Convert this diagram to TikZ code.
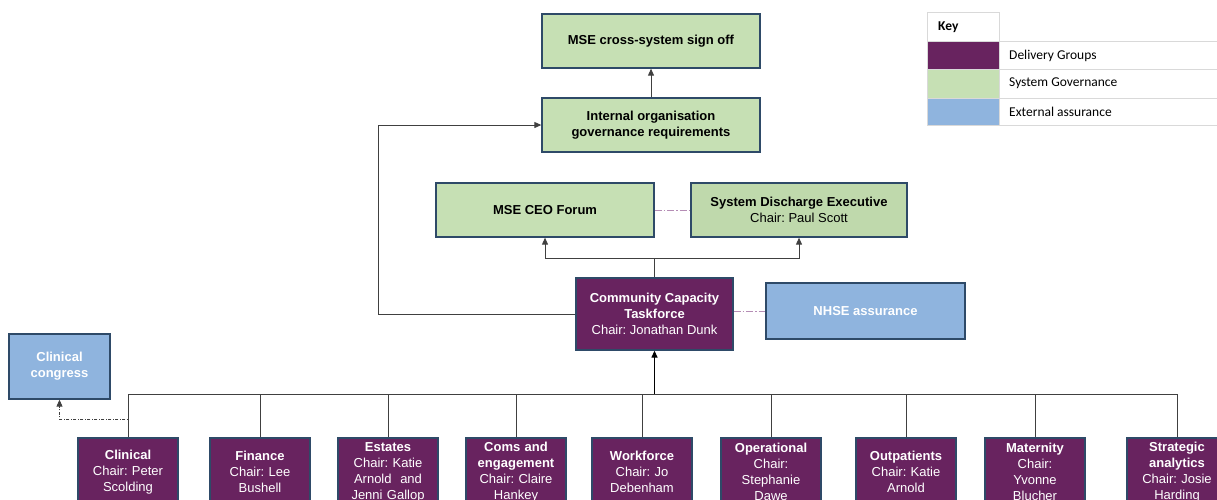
\documentclass[tikz,border=0pt]{standalone}
\usepackage{fontspec}
\setmainfont{Liberation Sans}
\newfontfamily\keyfont{Carlito}
\frenchspacing
\usetikzlibrary{arrows.meta}
\definecolor{purp}{HTML}{68235F}
\definecolor{grn}{HTML}{C6E0B4}
\definecolor{grn2}{HTML}{BFD9AC}
\definecolor{blu}{HTML}{8FB4DE}
\definecolor{bord}{HTML}{2E4A68}
\definecolor{conn}{HTML}{404040}
\definecolor{dashc}{HTML}{B58DB5}
\definecolor{keyline}{HTML}{D9D9D9}
\tikzset{
  box/.style={draw=bord, line width=1.3pt, align=center, inner sep=2pt,
    font=\frenchspacing\fontsize{13}{16}\selectfont},
  govbox/.style={box, fill=grn, text=black},
  delbox/.style={box, fill=purp, text=white},
  extbox/.style={box, fill=blu, text=white},
  grpbox/.style={delbox, minimum width=100pt, minimum height=68pt, text width=96pt},
  conline/.style={draw=conn, line width=0.9pt},
  arr/.style={-{Triangle[length=7pt,width=6pt]}},
  dashlink/.style={draw=dashc, line width=1pt, dash pattern=on 7pt off 2pt on 1.5pt off 2pt},
  keytxt/.style={font=\keyfont\fontsize{13.5}{16}\selectfont, anchor=west, inner sep=0pt},
}
\begin{document}
\begin{tikzpicture}[x=1pt,y=-1pt]
\useasboundingbox (0,0) rectangle (1217,499);
\clip (0,0) rectangle (1217,499);

% Governance boxes
\node[govbox, minimum width=218pt, minimum height=54pt] (sign) at (651,41) {\textbf{MSE cross-system sign off}};
\node[govbox, minimum width=218pt, minimum height=54pt] (intl) at (651,125) {\textbf{Internal organisation}\\\textbf{governance requirements}};
\node[govbox, minimum width=218pt, minimum height=54pt] (ceo) at (545,210) {\textbf{MSE CEO Forum}};
\node[govbox, fill=grn2, minimum width=216pt, minimum height=54pt] (sde) at (799,210) {\textbf{System Discharge Executive}\\Chair: Paul Scott};
\node[delbox, minimum width=157pt, minimum height=72pt] (cct) at (654.5,314) {\textbf{Community Capacity}\\\textbf{Taskforce}\\Chair: Jonathan Dunk};
\node[extbox, minimum width=199pt, minimum height=56pt] (nhse) at (865.5,311) {\textbf{NHSE assurance}};
\node[extbox, minimum width=101pt, minimum height=65pt] (congress) at (59.5,366.5) {\textbf{Clinical}\\\textbf{congress}};

% Delivery groups
\node[grpbox] (g1) at (128,472) {\textbf{Clinical}\\Chair: Peter\\Scolding};
\node[grpbox] (g2) at (260,472) {\textbf{Finance}\\Chair: Lee\\Bushell};
\node[grpbox] (g3) at (388,472) {\textbf{Estates}\\Chair: Katie\\Arnold\ \ and\\Jenni Gallop};
\node[grpbox] (g4) at (516,472) {\textbf{Coms and}\\\textbf{engagement}\\Chair: Claire\\Hankey};
\node[grpbox] (g5) at (642,472) {\textbf{Workforce}\\Chair: Jo\\Debenham};
\node[grpbox] (g6) at (771,472) {\textbf{Operational}\\Chair:\\Stephanie\\Dawe};
\node[grpbox] (g7) at (906,472) {\textbf{Outpatients}\\Chair: Katie\\Arnold};
\node[grpbox] (g8) at (1035,472) {\textbf{Maternity}\\Chair:\\Yvonne\\Blucher};
\node[grpbox] (g9) at (1177,472) {\textbf{Strategic}\\\textbf{analytics}\\Chair: Josie\\Harding};

% Connectors
\coordinate (busy) at (0,394);
\coordinate (bl) at (g1.north |- busy);
\coordinate (br) at (g9.north |- busy);
\draw[conline] (bl) -- (br);
\foreach \g in {g1,g2,g3,g4,g5,g6,g7,g8,g9}
  \draw[conline] (\g.north |- busy) -- (\g.north);
\draw[black, line width=1.3pt, arr] (cct.south |- busy) -- (cct.south);

\coordinate (split) at (cct.north |- 0,258);
\draw[conline] (cct.north) -- (split);
\draw[conline, arr] (split) -| (ceo.south);
\draw[conline, arr] (split) -| (sde.south);

\coordinate (lft) at (378,0);
\draw[conline, arr] (cct.west) -| (lft |- intl.west) -- (intl.west);
\draw[conline, arr] (intl.north) -- (sign.south);

\draw[dashlink] (ceo.east) -- (sde.west);
\draw[dashlink] (cct.east |- nhse.west) -- (nhse.west);

\coordinate (dd) at (g1.north |- 0,419);
\draw[draw=conn, line width=0.9pt, dash pattern=on 3pt off 1.5pt on 1pt off 1.5pt, arr] (g1.north) -- (dd) -| (congress.south);

% Key table
\fill[purp] (927,41) rectangle (999,69);
\fill[grn] (927,69) rectangle (999,98);
\fill[blu] (927,98) rectangle (999,125);
\draw[keyline, line width=0.8pt] (927,12) rectangle (999,41);
\foreach \yy in {41,69,98,125} \draw[keyline, line width=0.8pt] (927,\yy) -- (1217,\yy);
\draw[keyline, line width=0.8pt] (927,41) -- (927,125);
\draw[keyline, line width=0.8pt] (999,41) -- (999,125);
\node[keytxt, font=\keyfont\bfseries\fontsize{13.5}{16}\selectfont] (kh) at (938,27) {Key};
\node[keytxt] (k1) at (1009,55.5) {Delivery Groups};
\node[keytxt] (k2) at (1009,83.5) {System Governance};
\node[keytxt] (k3) at (1009,111.5) {External assurance};
\end{tikzpicture}
\end{document}
